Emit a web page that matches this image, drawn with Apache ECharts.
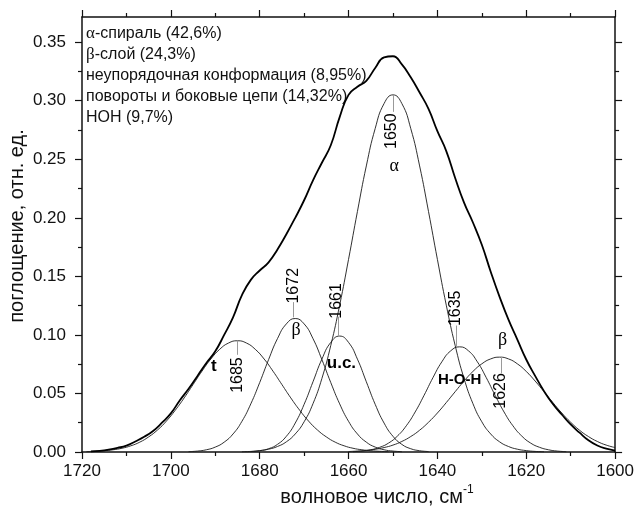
<!DOCTYPE html>
<html>
<head>
<meta charset="utf-8">
<script src="https://cdn.jsdelivr.net/npm/echarts@6/dist/echarts.min.js"></script>
<style>
html, body { margin: 0; padding: 0; background: #fff; }
#chart { width: 637px; height: 513px; }
</style>
</head>
<body>
<div id="chart"></div>
<script>
// полосы разложения амида I: первая волна и значения через 2 см-1
var tStart = 1719;
var tVals = [0.0003, 0.0006, 0.0011, 0.0019, 0.0032, 0.0053, 0.0084, 0.0129, 0.0188, 0.0264, 0.0357, 0.0462,
    0.0576, 0.0690, 0.0794, 0.0877, 0.0931, 0.095, 0.0931, 0.0877, 0.0794, 0.0690, 0.0576, 0.0462, 0.0357,
    0.0264, 0.0188, 0.0129, 0.0084, 0.0053, 0.0032, 0.0019, 0.0011, 0.0006, 0.0003];
var beta1Start = 1696;
var beta1Vals = [0.0003, 0.0008, 0.0019, 0.0042, 0.0084, 0.0154, 0.0262, 0.0411, 0.0593, 0.0789, 0.0968, 0.1094,
    0.114, 0.1094, 0.0968, 0.0789, 0.0593, 0.0411, 0.0262, 0.0154, 0.0084, 0.0042, 0.0019, 0.0008, 0.0003];
var ucStart = 1682;
var ucVals = [0.0004, 0.0011, 0.0028, 0.0065, 0.0134, 0.0247, 0.0407, 0.0600, 0.0793, 0.0936, 0.099, 0.0936,
    0.0793, 0.0600, 0.0407, 0.0247, 0.0134, 0.0065, 0.0028, 0.0011, 0.0004];
var alphaStart = 1684;
var alphaVals = [0.0002, 0.0005, 0.0012, 0.0024, 0.0047, 0.0087, 0.0154, 0.0258, 0.0413, 0.0628, 0.0910, 0.1254,
    0.1645, 0.2054, 0.2443, 0.2763, 0.2976, 0.305, 0.2976, 0.2763, 0.2443, 0.2054, 0.1645, 0.1254, 0.0910,
    0.0628, 0.0413, 0.0258, 0.0154, 0.0087, 0.0047, 0.0024, 0.0012, 0.0005, 0.0002];
var hohStart = 1659;
var hohVals = [0.0003, 0.0008, 0.0019, 0.0040, 0.0076, 0.0136, 0.0224, 0.0342, 0.0484, 0.0635, 0.0770, 0.0864,
    0.0898, 0.0864, 0.0770, 0.0635, 0.0484, 0.0342, 0.0224, 0.0136, 0.0076, 0.0040, 0.0019, 0.0008, 0.0003];
var beta2Start = 1660;
var beta2Vals = [0.0004, 0.0008, 0.0014, 0.0023, 0.0038, 0.0059, 0.0090, 0.0132, 0.0186, 0.0254, 0.0333, 0.0422,
    0.0515, 0.0606, 0.0688, 0.0753, 0.0795, 0.081, 0.0795, 0.0753, 0.0688, 0.0606, 0.0515, 0.0422, 0.0333,
    0.0254, 0.0186, 0.0132, 0.0090, 0.0059, 0.0038];
// экспериментальный спектр
var specStart = 1718;
var specVals = [0.0005, 0.001, 0.002, 0.0035, 0.0055, 0.009, 0.013, 0.018, 0.025, 0.033, 0.044, 0.054,
    0.065, 0.076, 0.086, 0.100, 0.115, 0.134, 0.147, 0.155, 0.162, 0.173, 0.186, 0.200, 0.215, 0.232,
    0.247, 0.262, 0.286, 0.305, 0.312, 0.317, 0.328, 0.337, 0.338, 0.331, 0.320, 0.307, 0.293, 0.274,
    0.257, 0.234, 0.213, 0.196, 0.177, 0.154, 0.1325, 0.113, 0.096, 0.079, 0.065, 0.052, 0.041, 0.032,
    0.0235, 0.0165, 0.010, 0.0055, 0.0028, 0.0012];

var step = 2;

// подписи максимумов
var peakNames = ['1685', '1672', '1661', '1650', '1635', '1626'];
var peakNameX = [1685, 1672.3, 1662.6, 1650.2, 1635.8, 1625.7];
var peakNameY = [0.0657, 0.142, 0.129, 0.274, 0.1227, 0.0522];
var peakLineX = [1685, 1672.4, 1662.4, 1650, 1635.7, 1625.7];
var peakLineFrom = [0.095, 0.115, 0.0985, 0.305, 0.108, 0.0813];
var peakLineTo = [0.083, 0.128, 0.1155, 0.2905, 0.0899, 0.0672];

var bandNames = ['t', 'β', 'u.c.', 'α', 'H-O-H', 'β'];
var bandX = [1690.3, 1671.8, 1661.6, 1649.7, 1635, 1625.3];
var bandY = [0.0728, 0.104, 0.0757, 0.2436, 0.0615, 0.0956];
var bandBold = [true, false, true, false, true, false];

var legendLines = [
    '{g|α}-спираль (42,6%)',
    '{g|β}-слой (24,3%)',
    'неупорядочная конформация (8,95%)',
    'повороты и боковые цепи (14,32%)',
    'НОН (9,7%)'
];

var xTicks = [1720, 1700, 1680, 1660, 1640, 1620, 1600];
var yTicks = [0, 0.05, 0.1, 0.15, 0.2, 0.25, 0.3, 0.35];
var yMinorTicks = [0.025, 0.075, 0.125, 0.175, 0.225, 0.275, 0.325];

function toPairs(start, vals) {
    return vals.map(function (v, i) {
        return [start - i * step, v];
    });
}

var font = 'Liberation Sans, Arial, sans-serif';
var ink = '#111';

var myChart = echarts.init(document.getElementById('chart'));

function band(data) {
    return {
        type: 'line',
        data: data,
        smooth: true,
        showSymbol: false,
        silent: true,
        lineStyle: { color: '#1a1a1a', width: 0.9 },
        z: 3
    };
}

var labelItems = [];
peakNames.forEach(function (t, i) {
    labelItems.push({
        value: [peakNameX[i], peakNameY[i]],
        label: { formatter: t, rotate: 90, fontSize: 16, color: '#000' }
    });
});
bandNames.forEach(function (t, i) {
    labelItems.push({
        value: [bandX[i], bandY[i]],
        label: {
            formatter: t,
            color: '#000',
            fontSize: bandBold[i] ? (t == 'H-O-H' ? 15 : 17) : 18,
            fontWeight: bandBold[i] ? 'bold' : 'normal',
            fontFamily: bandBold[i] ? font : 'Liberation Serif, serif'
        }
    });
});

var lineMarks = peakLineX.map(function (x, i) {
    return [{ coord: [x, peakLineFrom[i]] }, { coord: [x, peakLineTo[i]] }];
});

var xBase = {
    type: 'value', min: 1600, max: 1720, interval: 20, inverse: true,
    axisLine: { show: true, onZero: false, lineStyle: { color: ink, width: 1.5 } },
    axisTick: { show: true, length: 7, lineStyle: { color: ink, width: 1.2 } },
    minorTick: { show: true, splitNumber: 2, length: 4, lineStyle: { color: ink, width: 1.2 } },
    splitLine: { show: false }
};

function yAxisDef(pos, ticks, len, showLine, showLabel) {
    return {
        type: 'value', min: 0, max: 0.3715, position: pos,
        axisLine: { show: showLine, onZero: false, lineStyle: { color: ink, width: 1.5 } },
        axisTick: { show: true, length: len, customValues: ticks, lineStyle: { color: ink, width: 1.2 } },
        axisLabel: {
            show: showLabel, customValues: ticks, margin: 16,
            fontFamily: font, fontSize: 17, color: ink,
            formatter: function (v) { return v.toFixed(2); }
        },
        splitLine: { show: false }
    };
}

var option = {
    animation: false,
    backgroundColor: '#fff',
    grid: { left: 82, right: 21, top: 17, bottom: 61 },
    xAxis: [
        echarts.util.merge({
            position: 'bottom',
            axisLabel: {
                fontFamily: font, fontSize: 17, color: ink, margin: 11, customValues: xTicks,
                formatter: function (v) { return String(v); }
            }
        }, xBase),
        echarts.util.merge({ position: 'top', axisLabel: { show: false } }, xBase)
    ],
    yAxis: [
        yAxisDef('left', yTicks, 7, true, true),
        yAxisDef('right', yTicks, 7, true, false),
        yAxisDef('left', yMinorTicks, 4, false, false),
        yAxisDef('right', yMinorTicks, 4, false, false)
    ],
    series: [
        band(toPairs(tStart, tVals)),
        band(toPairs(beta1Start, beta1Vals)),
        band(toPairs(ucStart, ucVals)),
        band(toPairs(alphaStart, alphaVals)),
        band(toPairs(hohStart, hohVals)),
        band(toPairs(beta2Start, beta2Vals)),
        {
            type: 'line',
            data: toPairs(specStart, specVals),
            smooth: true,
            showSymbol: false,
            silent: true,
            lineStyle: { color: '#000', width: 1.8 },
            z: 4
        },
        {
            type: 'scatter',
            data: labelItems,
            symbolSize: 0.01,
            silent: true,
            itemStyle: { color: '#000', opacity: 1 },
            label: { show: true, position: 'inside', color: '#000', opacity: 1, fontFamily: font },
            markLine: {
                silent: true,
                symbol: ['none', 'none'],
                label: { show: false },
                lineStyle: { color: '#9a9a9a', width: 1, type: 'solid', opacity: 1 },
                data: lineMarks
            },
            z: 5
        }
    ],
    graphic: [
        {
            type: 'text',
            left: 86,
            top: 23,
            style: {
                text: legendLines.join('\n'),
                font: '16px ' + font,
                fill: ink,
                lineHeight: 21,
                rich: { g: { fontFamily: 'Liberation Serif, serif', fontSize: 17, lineHeight: 21 } }
            }
        },
        {
            type: 'text',
            x: 377,
            y: 497,
            style: {
                text: '{a|волновое число, см}{s|-1}',
                align: 'center',
                verticalAlign: 'middle',
                fill: ink,
                rich: {
                    a: { fontFamily: font, fontSize: 20, lineHeight: 26, fill: ink },
                    s: { fontFamily: font, fontSize: 12, verticalAlign: 'top', lineHeight: 26, fill: ink }
                }
            }
        },
        {
            type: 'text',
            x: 17,
            y: 226,
            rotation: Math.PI / 2,
            style: {
                text: 'поглощение, отн. ед.',
                font: '20px ' + font,
                fill: ink,
                align: 'center',
                verticalAlign: 'middle'
            }
        }
    ]
};

myChart.setOption(option);
</script>
</body>
</html>
